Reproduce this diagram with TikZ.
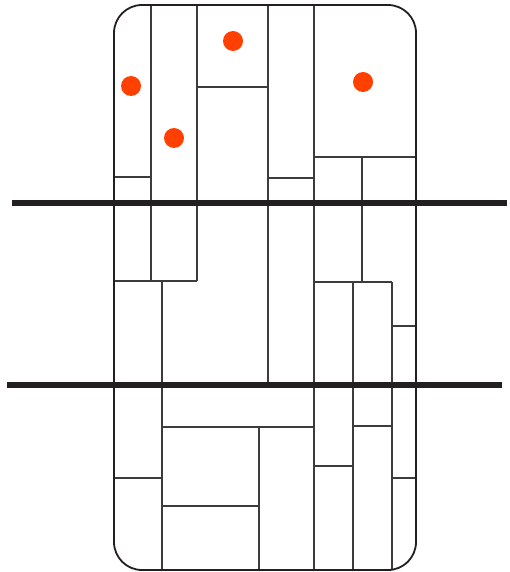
\documentclass[tikz,border=0pt]{standalone}
\definecolor{dotred}{RGB}{255,64,0}
\definecolor{ink}{RGB}{35,31,32}
\definecolor{thin}{RGB}{60,60,60}
\tikzset{
  frame/.style={draw=ink, line width=1.8pt, rounded corners=28pt},
  part/.style={draw=thin, line width=1.1pt},
  bar/.style={draw=ink, line width=6pt},
  spot/.style={fill=dotred, draw=none}
}
\begin{document}
\begin{tikzpicture}[x=1pt,y=-1pt]
\useasboundingbox (0,0) rectangle (510,572);
\begin{scope}
\clip[rounded corners=28pt] (114,5) rectangle (416,570);
% top section verticals
\draw[part] (151,5) -- (151,281);
\draw[part] (197,5) -- (197,281);
\draw[part] (268,5) -- (268,385);
\draw[part] (314,5) -- (314,571);
\draw[part] (197,87) -- (268,87);
\draw[part] (114,177) -- (151,177);
\draw[part] (268,178) -- (314,178);
\draw[part] (314,157) -- (416,157);
\draw[part] (362,157) -- (362,282);
\draw[part] (114,281) -- (197,281);
% lower section
\draw[part] (162,281) -- (162,571);
\draw[part] (314,282) -- (392,282);
\draw[part] (353,282) -- (353,571);
\draw[part] (392,282) -- (392,571);
\draw[part] (392,326) -- (416,326);
\draw[part] (162,427) -- (314,427);
\draw[part] (259,427) -- (259,571);
\draw[part] (162,506) -- (259,506);
\draw[part] (114,478) -- (162,478);
\draw[part] (314,466) -- (353,466);
\draw[part] (353,426) -- (392,426);
\draw[part] (392,478) -- (416,478);
\end{scope}
\draw[frame] (114,5) rectangle (416,570);
% thick bars
\draw[bar] (12,203) -- (507,203);
\draw[bar] (7,385) -- (502,385);
% dots
\fill[spot] (131,86) circle (10);
\fill[spot] (233,41) circle (10);
\fill[spot] (363,82) circle (10);
\fill[spot] (174,138) circle (10);
\end{tikzpicture}
\end{document}
